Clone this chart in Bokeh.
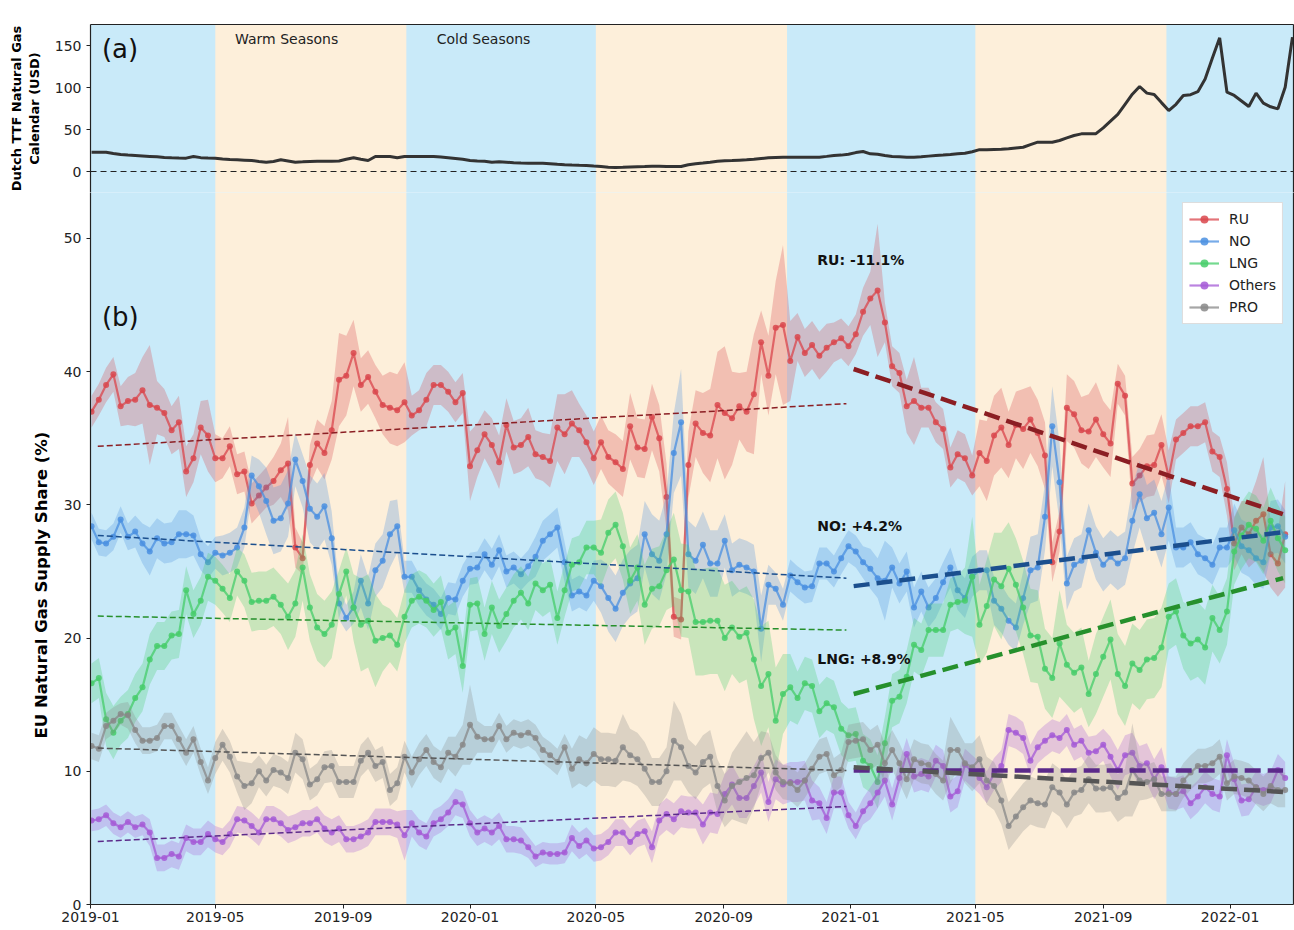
import numpy as np
import pandas as pd
from bokeh.plotting import figure
from bokeh.models import (Range1d, Span, Label, Legend, LegendItem, Title,
                          LinearAxis, FixedTicker, DatetimeTickFormatter, ColumnDataSource)
from bokeh.layouts import column
from bokeh.embed import file_html
from bokeh.resources import INLINE

# ---------------- data ----------------
FIRST_WEEK = "2019-01-02"
X_START, X_END = "2019-01-01", "2022-03-03"
x_tick_labels = ["2019-01", "2019-05", "2019-09", "2020-01", "2020-05", "2020-09",
                 "2021-01", "2021-05", "2021-09", "2022-01"]

season_start = ["2018-12-01", "2019-05-01", "2019-11-01", "2020-05-01", "2020-11-01", "2021-05-01", "2021-11-01"]
season_end = ["2019-05-01", "2019-11-01", "2020-05-01", "2020-11-01", "2021-05-01", "2021-11-01", "2022-05-01"]
season_kind = ["cold", "warm", "cold", "warm", "cold", "warm", "cold"]

ttf = [23.0, 23.0, 23.0, 21.5, 20.2, 19.5, 19.0, 18.5, 18.0, 17.5,
       16.8, 16.3, 16.0, 15.9, 17.9, 16.5, 16.0, 15.9, 15.0, 14.2,
       13.9, 13.5, 13.1, 12.0, 11.1, 12.0, 13.9, 12.5, 11.1, 11.5,
       12.0, 12.3, 12.3, 12.3, 12.5, 14.5, 16.3, 14.5, 13.1, 17.9,
       17.9, 17.9, 16.3, 17.9, 17.9, 17.9, 17.9, 17.9, 17.2, 16.5,
       15.5, 14.5, 13.1, 12.5, 12.3, 11.1, 11.5, 11.1, 10.5, 10.0,
       9.9, 9.9, 9.9, 9.2, 8.5, 8.0, 7.6, 7.3, 7.1, 6.5,
       6.0, 5.2, 4.8, 5.0, 5.5, 5.8, 6.0, 6.3, 6.2, 6.0,
       6.0, 6.0, 8.0, 9.1, 10.0, 11.1, 12.3, 12.8, 13.1, 13.5,
       13.9, 14.5, 15.5, 16.3, 16.8, 17.1, 17.1, 17.1, 17.1, 17.1,
       17.1, 18.0, 19.0, 19.5, 20.5, 22.5, 23.8, 21.0, 20.5, 19.0,
       17.9, 17.5, 17.1, 17.1, 17.5, 18.3, 19.0, 19.5, 20.2, 21.0,
       21.8, 23.5, 26.0, 25.8, 26.2, 26.5, 27.0, 28.0, 28.9, 32.0,
       34.9, 34.9, 34.9, 36.9, 40.0, 42.9, 44.8, 44.8, 45.0, 52.0,
       60.0, 68.0, 80.0, 92.0, 101.2, 93.3, 91.7, 82.0, 72.6, 80.0,
       90.5, 91.5, 95.0, 110.0, 135.0, 159.1, 94.4, 90.5, 84.0, 77.4,
       93.3, 81.3, 77.0, 74.6, 100.4, 160.0]

ru = [37.0, 37.9, 39.0, 39.8, 37.4, 37.8, 37.9, 38.6, 37.5, 37.3,
      36.9, 35.6, 36.2, 32.5, 33.5, 35.8, 35.2, 33.5, 33.5, 34.4,
      32.3, 32.5, 30.1, 30.7, 31.3, 31.8, 32.6, 33.1, 26.8, 26.0,
      33.0, 34.6, 33.9, 35.6, 39.4, 39.7, 41.4, 39.0, 39.6, 38.5,
      37.5, 37.3, 37.1, 37.7, 36.7, 37.1, 37.9, 39.0, 39.0, 38.5,
      37.7, 38.4, 32.9, 34.1, 35.3, 34.5, 33.2, 36.0, 34.3, 34.5,
      35.1, 33.8, 33.6, 33.3, 35.8, 35.3, 36.1, 35.6, 34.7, 33.5,
      34.7, 33.6, 33.2, 32.7, 35.9, 34.3, 34.2, 36.6, 35.0, 30.6,
      21.6, 21.4, 33.0, 36.1, 35.4, 35.2, 37.5, 36.9, 36.5, 37.4,
      37.0, 38.3, 42.2, 39.7, 43.3, 43.5, 40.8, 42.6, 41.4, 42.0,
      41.2, 41.8, 42.2, 42.5, 41.9, 42.8, 44.5, 45.5, 46.1, 43.7,
      40.4, 39.9, 37.4, 37.8, 37.3, 37.3, 36.2, 35.7, 32.8, 33.8,
      33.5, 32.2, 33.9, 33.3, 35.2, 35.8, 34.5, 36.0, 35.7, 36.4,
      35.4, 33.7, 25.7, 28.0, 37.3, 36.8, 35.6, 35.5, 36.4, 35.3,
      34.6, 39.1, 38.2, 31.6, 32.2, 32.9, 33.0, 34.5, 32.1, 34.9,
      35.4, 35.9, 35.9, 36.2, 34.0, 33.6, 31.2, 27.1, 28.3, 27.8,
      28.8, 29.3, 26.3, 25.6, 27.8]

no = [28.4, 27.2, 27.1, 27.6, 28.9, 27.6, 28.0, 27.1, 26.5, 27.5,
      27.1, 27.2, 27.8, 27.8, 27.7, 26.3, 25.7, 26.4, 26.2, 26.4,
      26.8, 28.3, 32.2, 31.4, 30.3, 28.8, 29.0, 30.1, 33.4, 31.8,
      29.7, 29.1, 29.9, 27.5, 22.6, 21.5, 22.3, 24.3, 22.6, 25.1,
      25.8, 27.8, 28.4, 24.6, 24.6, 23.6, 22.9, 22.5, 21.8, 23.0,
      22.9, 24.3, 25.2, 25.3, 26.3, 25.5, 26.6, 25.0, 25.3, 24.8,
      25.4, 26.1, 27.3, 27.8, 28.3, 25.7, 23.2, 23.5, 23.2, 24.3,
      23.9, 23.0, 22.2, 23.4, 24.1, 24.5, 27.8, 26.3, 25.8, 27.8,
      33.9, 36.2, 26.3, 25.8, 27.0, 25.6, 25.6, 27.3, 25.1, 25.5,
      25.3, 25.0, 20.7, 24.0, 23.7, 22.5, 24.7, 24.2, 23.8, 23.9,
      25.6, 25.6, 25.0, 26.0, 26.9, 26.5, 25.7, 25.2, 24.5, 24.3,
      25.3, 24.1, 25.0, 22.3, 23.5, 22.3, 23.0, 24.2, 25.3, 23.6,
      23.0, 24.6, 25.1, 25.1, 22.8, 22.2, 21.3, 20.8, 23.0, 25.1,
      25.3, 29.1, 35.9, 31.7, 24.1, 25.5, 25.8, 28.1, 26.4, 25.5,
      26.1, 25.6, 26.0, 28.8, 30.8, 29.0, 29.4, 27.8, 29.8, 26.8,
      26.8, 27.2, 26.3, 26.0, 25.5, 26.8, 26.8, 28.1, 26.9, 26.6,
      26.0, 25.7, 28.3, 28.4, 27.6]

lng = [16.6, 17.0, 13.9, 12.9, 13.8, 14.3, 15.5, 16.3, 18.4, 19.4,
       19.4, 20.2, 20.3, 23.6, 21.8, 22.8, 24.6, 24.3, 23.7, 23.0,
       25.0, 24.3, 22.7, 22.8, 22.8, 23.1, 22.5, 21.6, 22.6, 25.3,
       22.3, 20.8, 20.3, 21.0, 23.3, 25.0, 22.3, 21.0, 21.3, 19.8,
       20.0, 20.2, 19.5, 21.6, 22.8, 23.1, 22.8, 22.1, 22.7, 20.4,
       20.8, 17.9, 22.5, 22.6, 20.3, 22.3, 20.9, 21.8, 22.8, 23.4,
       22.6, 24.1, 23.6, 24.0, 21.5, 23.6, 25.5, 25.7, 26.8, 26.8,
       26.4, 27.9, 28.5, 26.9, 24.3, 25.3, 22.5, 23.7, 23.9, 25.1,
       25.9, 23.6, 23.5, 21.2, 21.2, 21.3, 21.3, 20.0, 20.8, 20.1,
       20.4, 18.4, 16.4, 17.3, 13.8, 15.8, 16.3, 15.5, 16.6, 16.4,
       14.5, 15.1, 14.8, 13.2, 12.7, 12.8, 10.8, 10.4, 9.2, 12.1,
       15.3, 15.6, 17.1, 19.5, 19.1, 20.6, 20.6, 20.6, 22.5, 22.7,
       22.8, 24.6, 21.0, 22.4, 24.4, 23.9, 25.2, 24.0, 22.3, 20.2,
       20.1, 17.7, 17.0, 19.6, 18.0, 17.4, 17.8, 15.8, 17.3, 18.6,
       19.9, 17.3, 16.4, 18.1, 17.6, 18.4, 18.5, 19.3, 21.6, 22.0,
       20.2, 19.6, 19.9, 19.3, 21.5, 20.6, 22.0, 26.5, 27.7, 28.5,
       28.2, 27.3, 28.8, 27.5, 26.6]

others = [6.3, 6.4, 6.7, 6.1, 5.8, 6.2, 5.8, 6.0, 5.4, 3.5,
          3.5, 3.8, 3.6, 5.0, 4.7, 4.7, 5.3, 4.9, 4.7, 5.3,
          6.4, 6.3, 5.9, 5.4, 6.4, 6.4, 6.1, 5.6, 5.8, 6.1,
          6.1, 6.4, 5.7, 5.4, 5.7, 4.9, 4.9, 5.1, 5.4, 6.2,
          6.2, 6.2, 6.0, 5.2, 6.1, 5.4, 5.1, 6.1, 6.4, 6.9,
          7.7, 7.5, 6.1, 5.4, 5.7, 5.4, 5.9, 4.9, 4.9, 4.8,
          4.3, 3.6, 3.9, 3.8, 3.8, 3.9, 5.0, 4.4, 4.8, 4.2,
          4.3, 4.7, 5.4, 5.4, 4.7, 5.3, 5.5, 4.3, 6.3, 6.8,
          6.4, 7.0, 6.9, 6.9, 6.0, 6.9, 6.8, 8.3, 9.0, 8.0,
          8.0, 8.9, 9.9, 7.7, 9.4, 9.0, 9.2, 9.2, 9.3, 7.8,
          7.6, 6.5, 8.4, 8.4, 6.7, 5.9, 7.0, 7.6, 8.4, 9.3,
          7.5, 9.5, 11.3, 9.6, 9.8, 9.6, 10.8, 10.4, 8.1, 8.5,
          10.5, 10.0, 9.5, 8.8, 9.8, 10.4, 13.1, 12.9, 12.5, 10.8,
          11.8, 12.3, 12.7, 12.5, 13.1, 12.0, 12.3, 11.4, 11.5, 12.0,
          11.1, 10.1, 11.2, 11.4, 10.4, 10.6, 9.4, 10.3, 8.4, 8.3,
          8.5, 7.6, 8.1, 8.8, 8.3, 8.1, 11.2, 9.4, 7.8, 7.9,
          8.8, 8.6, 8.8, 10.1, 9.5]

pro = [11.9, 11.7, 13.4, 13.8, 14.3, 14.2, 13.1, 12.3, 12.3, 12.5,
       13.4, 13.4, 12.4, 11.4, 12.4, 10.7, 9.3, 11.0, 12.0, 11.1,
       9.6, 8.9, 9.1, 10.0, 9.3, 10.1, 9.9, 9.5, 11.4, 10.9,
       9.0, 9.4, 10.3, 10.4, 9.2, 9.2, 9.2, 10.8, 11.4, 10.4,
       10.7, 8.6, 9.1, 11.1, 9.9, 10.9, 11.6, 10.7, 10.3, 11.4,
       11.1, 12.0, 13.5, 12.6, 12.4, 12.4, 13.4, 12.4, 12.9, 12.7,
       12.9, 12.5, 11.6, 11.2, 10.7, 11.8, 10.2, 10.9, 10.6, 11.3,
       10.9, 10.9, 10.8, 11.8, 11.2, 10.9, 10.2, 9.2, 9.2, 10.0,
       12.3, 11.8, 10.4, 9.9, 10.7, 11.1, 8.9, 7.8, 8.9, 9.2,
       9.5, 9.7, 11.0, 11.4, 9.9, 9.2, 9.1, 8.6, 9.3, 10.2,
       11.1, 11.3, 9.7, 10.1, 12.2, 12.3, 12.4, 11.6, 12.0, 10.6,
       11.6, 10.6, 9.4, 10.9, 10.6, 10.5, 9.8, 9.3, 11.6, 11.6,
       10.6, 10.3, 10.9, 9.3, 8.9, 7.8, 5.9, 6.6, 7.3, 7.8,
       7.6, 7.5, 8.8, 8.4, 7.5, 8.4, 8.6, 9.4, 8.7, 8.7,
       8.8, 8.0, 8.4, 10.1, 9.3, 9.2, 9.4, 8.3, 8.3, 8.3,
       9.3, 9.9, 10.4, 10.4, 10.6, 11.1, 9.1, 9.6, 9.5, 9.3,
       8.8, 8.3, 8.9, 8.6, 8.6]

# band half-widths (uncertainty shading)
ru_spread = [1.2, 1.2, 1.3, 1.3, 1.5, 1.8, 2.0, 2.5, 4.5, 2.0,
             1.8, 1.8, 2.0, 1.9, 1.8, 2.0, 2.7, 1.8, 1.5, 1.5,
             1.5, 1.5, 1.5, 1.5, 1.5, 1.8, 2.0, 3.5, 1.5, 1.2,
             1.5, 1.8, 2.0, 2.2, 3.5, 3.0, 2.5, 2.0, 2.0, 2.0,
             2.2, 2.7, 2.7, 3.0, 1.5, 1.5, 2.0, 1.5, 1.5, 1.5,
             1.5, 1.5, 2.6, 2.0, 1.8, 2.0, 2.0, 2.0, 2.0, 2.0,
             2.2, 1.8, 1.8, 2.0, 2.5, 3.0, 2.5, 2.0, 2.0, 2.0,
             2.0, 2.0, 2.1, 2.1, 2.5, 2.2, 2.2, 2.5, 2.5, 2.5,
             1.5, 1.5, 2.5, 2.5, 3.0, 3.5, 4.0, 5.0, 3.5, 2.5,
             3.0, 4.5, 2.4, 3.0, 3.5, 6.0, 3.0, 1.8, 1.8, 1.8,
             1.8, 1.8, 1.5, 1.5, 1.5, 1.5, 1.8, 2.0, 5.0, 1.5,
             1.5, 1.5, 2.0, 3.3, 1.5, 1.5, 1.5, 1.5, 1.5, 1.8,
             1.8, 1.5, 2.5, 3.0, 3.0, 3.0, 2.5, 2.5, 3.0, 2.5,
             2.5, 2.5, 1.5, 1.5, 2.5, 2.5, 2.5, 2.8, 2.8, 2.5,
             2.5, 1.5, 1.5, 2.0, 2.0, 2.3, 2.3, 2.3, 2.0, 1.5,
             1.5, 1.5, 1.5, 1.5, 1.5, 1.5, 2.0, 2.0, 2.0, 2.5,
             3.0, 4.3, 2.5, 2.5, 4.0]
no_spread = [1.0, 1.0, 1.0, 1.0, 1.0, 1.0, 1.2, 1.5, 1.8, 1.5,
             1.5, 1.5, 1.8, 1.8, 1.5, 1.2, 1.2, 1.2, 1.5, 1.5,
             1.5, 1.5, 1.5, 2.0, 2.5, 2.5, 2.5, 2.5, 2.0, 2.0,
             2.5, 2.5, 2.5, 2.0, 1.2, 1.0, 1.2, 2.0, 2.0, 2.0,
             2.0, 2.5, 2.0, 1.2, 1.2, 1.2, 1.2, 1.2, 1.2, 1.2,
             1.2, 1.2, 1.2, 1.2, 1.2, 1.2, 1.2, 1.2, 1.2, 1.2,
             1.2, 1.5, 1.5, 1.5, 1.5, 1.5, 1.2, 1.2, 1.2, 1.5,
             2.0, 2.5, 2.5, 2.5, 2.5, 2.5, 2.5, 3.0, 3.0, 3.0,
             3.0, 4.0, 2.5, 2.5, 2.5, 2.5, 2.5, 2.0, 2.0, 2.0,
             2.0, 2.0, 2.5, 1.5, 1.2, 1.2, 1.2, 1.2, 1.2, 1.2,
             1.2, 1.2, 1.2, 1.2, 1.2, 1.2, 1.2, 1.5, 1.5, 3.0,
             1.5, 1.5, 1.5, 1.5, 1.5, 1.5, 1.5, 1.5, 1.5, 1.5,
             1.5, 1.5, 1.5, 1.5, 1.8, 1.8, 1.8, 1.8, 2.0, 2.5,
             2.5, 2.5, 3.0, 3.0, 2.0, 2.0, 2.0, 2.0, 2.0, 2.0,
             2.0, 2.0, 2.0, 2.5, 2.5, 2.5, 2.5, 2.5, 2.5, 1.5,
             1.5, 1.5, 1.5, 1.5, 1.5, 1.5, 1.5, 2.0, 2.0, 2.0,
             2.0, 2.0, 2.0, 2.0, 2.0]
lng_spread = [1.5, 1.5, 2.0, 2.0, 1.8, 1.8, 1.8, 1.8, 1.9, 1.8,
              1.8, 1.8, 1.8, 1.8, 1.8, 1.8, 1.8, 1.8, 1.8, 1.8,
              1.8, 2.0, 2.2, 2.2, 2.2, 2.2, 2.2, 2.5, 2.5, 2.5,
              2.5, 2.5, 2.5, 2.5, 1.8, 1.8, 2.5, 3.5, 3.5, 3.5,
              2.5, 2.0, 2.0, 2.0, 2.0, 2.0, 2.0, 2.0, 2.0, 2.0,
              2.0, 2.0, 2.0, 2.0, 2.0, 2.0, 2.0, 2.0, 2.0, 2.0,
              2.0, 2.0, 2.0, 2.0, 2.0, 2.0, 2.0, 2.0, 2.0, 2.0,
              2.5, 2.5, 2.5, 2.5, 2.5, 2.5, 3.0, 3.0, 3.0, 3.0,
              3.5, 3.5, 3.5, 4.0, 4.0, 4.0, 4.0, 4.0, 3.5, 3.5,
              3.5, 4.5, 4.5, 4.0, 4.0, 3.0, 2.5, 2.0, 2.0, 2.0,
              2.0, 2.0, 2.0, 2.0, 2.0, 2.0, 2.0, 2.0, 2.0, 2.0,
              2.0, 2.0, 2.0, 2.0, 2.0, 2.0, 2.0, 2.0, 2.0, 2.0,
              2.5, 4.5, 3.0, 3.5, 3.5, 4.0, 3.5, 3.5, 3.5, 3.5,
              3.5, 3.0, 3.0, 4.0, 3.0, 3.0, 3.0, 2.5, 3.0, 3.0,
              3.0, 3.0, 3.0, 3.0, 3.0, 3.0, 3.0, 3.0, 2.5, 2.5,
              2.5, 2.8, 2.8, 2.8, 2.5, 2.5, 2.5, 2.5, 2.5, 2.5,
              2.5, 2.5, 2.5, 2.5, 2.5]
others_spread = [0.8, 0.8, 0.8, 0.8, 0.8, 0.8, 0.8, 0.8, 1.0, 1.0,
                 1.0, 1.0, 1.0, 1.0, 1.0, 1.0, 1.0, 1.0, 1.0, 1.0,
                 1.0, 1.0, 1.0, 1.0, 1.0, 1.0, 1.0, 1.0, 1.0, 1.0,
                 1.0, 1.0, 1.0, 1.0, 1.0, 1.0, 1.0, 1.0, 1.0, 1.0,
                 1.0, 1.0, 1.0, 1.9, 1.0, 1.0, 1.0, 1.0, 1.0, 1.0,
                 1.0, 1.0, 1.0, 1.0, 1.0, 1.0, 1.0, 1.0, 1.0, 1.0,
                 0.8, 0.8, 0.8, 0.8, 0.8, 0.8, 1.0, 1.0, 1.0, 1.0,
                 1.0, 1.0, 1.0, 1.0, 1.0, 1.0, 1.0, 1.2, 1.2, 1.2,
                 1.2, 1.2, 1.2, 1.2, 1.5, 1.5, 1.5, 1.5, 1.5, 1.5,
                 1.5, 1.5, 1.5, 1.5, 1.5, 1.5, 1.5, 1.5, 1.5, 1.5,
                 1.2, 1.2, 1.2, 1.2, 1.0, 1.0, 1.0, 1.2, 1.2, 1.2,
                 1.2, 1.2, 1.2, 1.2, 1.2, 1.2, 1.2, 1.2, 1.2, 1.2,
                 1.2, 1.2, 1.2, 1.2, 1.2, 1.2, 1.2, 1.2, 1.2, 1.2,
                 1.2, 1.2, 1.2, 1.2, 1.2, 1.2, 1.2, 1.2, 1.2, 1.2,
                 1.5, 1.5, 1.5, 1.5, 1.5, 1.5, 1.5, 1.5, 1.2, 1.2,
                 1.2, 1.2, 1.2, 1.2, 1.2, 1.2, 1.2, 1.2, 1.2, 1.2,
                 1.2, 1.2, 1.2, 1.2, 1.2]
pro_spread = [1.0, 1.0, 1.0, 1.0, 0.8, 1.0, 1.0, 1.0, 1.0, 1.0,
              1.0, 1.0, 1.0, 1.0, 1.0, 1.0, 1.0, 1.2, 1.2, 1.2,
              1.2, 1.8, 1.5, 1.2, 1.2, 1.2, 1.2, 1.2, 1.5, 1.5,
              1.2, 1.2, 1.2, 1.2, 1.2, 1.2, 1.2, 1.2, 1.2, 1.2,
              1.2, 1.2, 1.2, 1.2, 1.2, 1.2, 1.2, 1.2, 1.2, 1.2,
              1.5, 1.5, 3.0, 1.2, 1.0, 1.0, 1.0, 1.0, 1.0, 1.0,
              1.0, 1.0, 1.0, 1.0, 1.0, 1.0, 1.5, 1.8, 1.8, 2.0,
              2.0, 2.0, 2.0, 2.5, 2.0, 2.0, 2.0, 1.8, 1.8, 1.8,
              3.0, 2.5, 2.0, 2.0, 2.0, 2.0, 2.0, 2.0, 2.5, 3.0,
              3.5, 2.5, 2.0, 1.5, 1.3, 1.3, 1.3, 1.3, 1.3, 1.3,
              1.3, 1.3, 1.3, 1.3, 1.3, 1.3, 1.3, 1.5, 1.5, 1.5,
              1.5, 1.5, 1.5, 1.5, 1.5, 1.5, 1.5, 1.5, 2.5, 1.5,
              1.5, 1.8, 1.8, 1.8, 1.8, 1.8, 1.8, 1.8, 1.8, 1.8,
              1.8, 1.8, 1.8, 1.8, 1.8, 1.8, 1.8, 1.8, 1.8, 1.8,
              1.8, 1.8, 1.8, 3.5, 1.5, 1.3, 1.3, 1.3, 1.3, 1.3,
              1.3, 1.3, 1.3, 1.3, 1.3, 1.3, 1.3, 1.3, 1.3, 1.3,
              1.3, 1.3, 1.3, 1.3, 1.3]

series_names = ["RU", "NO", "LNG", "Others", "PRO"]
series_values = [ru, no, lng, others, pro]
series_spreads = [ru_spread, no_spread, lng_spread, others_spread, pro_spread]

# linear trends (start value, end value) for 2019-2020 and 2021-2022 periods
trend1_dates = ["2019-01-08", "2020-12-28"]
trend2_dates = ["2021-01-04", "2022-02-21"]
trend1_start = [34.4, 27.7, 21.65, 4.73, 11.74]
trend1_end = [37.6, 24.5, 20.6, 7.36, 10.06]
trend2_start = [40.2, 23.9, 15.8, 10.06, 10.3]
trend2_end = [29.3, 27.95, 24.5, 10.06, 8.45]
trend_labels = ["RU: -11.1%", "NO: +4.2%", "LNG: +8.9%"]
trend_label_y = [48.4, 28.4, 18.4]

# ---------------- style ----------------
FONT = "DejaVu Sans"
colors = ["#d9464c", "#4a8fe0", "#46cc6a", "#a45ad6", "#888888"]
trend_colors = ["#8b1e23", "#1b4f8e", "#26902c", "#5b2a8a", "#555555"]
COLD, WARM = "#c9eaf9", "#fdefda"


def ms(d):
    return pd.Timestamp(d).timestamp() * 1000.0


xr = Range1d(ms(X_START), ms(X_END))
W = 1294
tick_ms = [ms(t + "-01") for t in x_tick_labels]


def style_axis(ax):
    ax.major_label_text_font = FONT
    ax.major_label_text_font_size = "14px"
    ax.major_label_text_color = "#222222"
    ax.axis_line_color = "#222222"
    ax.axis_line_width = 1.2
    ax.major_tick_line_color = "#222222"
    ax.major_tick_out = 4
    ax.major_tick_in = 0
    ax.minor_tick_out = 0
    ax.minor_tick_in = 0
    ax.axis_label_text_font = FONT
    ax.axis_label_text_font_style = "bold"
    ax.axis_label_text_color = "#000000"


def border_axis(p, side):
    ax = LinearAxis(ticker=FixedTicker(ticks=[]), major_label_text_font_size="0px",
                    major_tick_out=0, major_tick_in=0, minor_tick_out=0, minor_tick_in=0,
                    major_label_standoff=0, axis_line_color="#222222", axis_line_width=1.2)
    p.add_layout(ax, side)


def add_seasons(p):
    # season backgrounds as quads spanning well past the panel's y range (clipped to the frame)
    span = p.y_range.end - p.y_range.start
    src = ColumnDataSource(dict(
        left=[ms(s) for s in season_start], right=[ms(e) for e in season_end],
        bottom=[p.y_range.start - span] * len(season_start),
        top=[p.y_range.end + span] * len(season_start),
        color=[COLD if k == "cold" else WARM for k in season_kind]))
    p.quad(left="left", right="right", bottom="bottom", top="top", source=src,
           fill_color="color", line_color=None, level="underlay")


# ---------------- top panel (a) ----------------
p1 = figure(width=W, height=192, x_range=xr, y_range=Range1d(-25.0, 175),
            x_axis_type="datetime", x_axis_location=None,
            output_backend="svg", toolbar_location=None,
            min_border_left=90, min_border_right=1, min_border_top=24, min_border_bottom=0)
p1.outline_line_color = None
p1.grid.visible = False
p1.background_fill_color = COLD
add_seasons(p1)
p1.yaxis.ticker = FixedTicker(ticks=[0, 50, 100, 150])
style_axis(p1.yaxis[0])
p1.yaxis.axis_label = "Dutch TTF Natural Gas\nCalendar (USD)"
p1.yaxis.axis_label_text_font_size = "13px"
p1.yaxis.axis_label_standoff = 10
border_axis(p1, "above")
border_axis(p1, "right")

ttf_dates = pd.date_range(FIRST_WEEK, periods=len(ttf), freq="7D")
p1.add_layout(Span(location=0, dimension="width", line_color="#222222", line_dash="6 4", line_width=1))
p1.line(ttf_dates, ttf, line_color="#333333", line_width=3)

p1.add_layout(Label(x=ms("2019-01-12"), y=146.0, text="(a)", text_font=FONT, text_font_size="26px",
                    text_baseline="middle", text_color="#111111"))
p1.add_layout(Label(x=ms("2019-05-20"), y=158.0, text="Warm Seasons", text_font=FONT,
                    text_font_size="14px", text_baseline="middle", text_color="#222222"))
p1.add_layout(Label(x=ms("2019-11-30"), y=158.0, text="Cold Seasons", text_font=FONT,
                    text_font_size="14px", text_baseline="middle", text_color="#222222"))

# ---------------- bottom panel (b) ----------------
p2 = figure(width=W, height=737, x_range=xr, y_range=Range1d(0, 53.45),
            x_axis_type="datetime", output_backend="svg", toolbar_location=None,
            min_border_left=90, min_border_right=1, min_border_top=0, min_border_bottom=25)
p2.outline_line_color = None
p2.grid.visible = False
p2.background_fill_color = COLD
add_seasons(p2)
p2.yaxis.ticker = FixedTicker(ticks=[0, 10, 20, 30, 40, 50])
style_axis(p2.yaxis[0])
p2.xaxis.ticker = FixedTicker(ticks=tick_ms)
fmt = "%Y-%m"
p2.xaxis.formatter = DatetimeTickFormatter(milliseconds=fmt, seconds=fmt, minsec=fmt, minutes=fmt,
                                           hourmin=fmt, hours=fmt, days=fmt, months=fmt, years=fmt)
style_axis(p2.xaxis[0])
p2.xaxis.major_label_standoff = 3
border_axis(p2, "right")

# y-axis title as a side title (placed lower than the frame centre, as in the original)
p2.add_layout(Title(text="EU Natural Gas Supply Share (%)", align="left", offset=166, standoff=20,
                    text_font=FONT, text_font_size="16.5px", text_font_style="bold",
                    text_color="#000000"), "left")

dates = pd.date_range(FIRST_WEEK, periods=len(ru), freq="7D")
legend_items = []
for name, vals, spr, col in zip(series_names, series_values, series_spreads, colors):
    v = np.array(vals, dtype=float)
    s = np.array(spr, dtype=float)
    d = dates[:len(v)]
    src = ColumnDataSource(dict(date=d, val=v, lo=v - s, hi=v + s))
    p2.varea(x="date", y1="lo", y2="hi", source=src, fill_color=col, fill_alpha=0.28)
    ln = p2.line(x="date", y="val", source=src, line_color=col, line_width=2.2, line_alpha=0.75)
    sc = p2.scatter(x="date", y="val", source=src, size=6, fill_color=col, line_color=None, fill_alpha=0.85)
    legend_items.append(LegendItem(label=name, renderers=[ln, sc]))

# trend lines
for i, col in enumerate(trend_colors):
    p2.line([ms(trend1_dates[0]), ms(trend1_dates[1])], [trend1_start[i], trend1_end[i]],
            line_color=col, line_width=1.5, line_dash="6 3")
for i, col in enumerate(trend_colors):
    p2.line([ms(trend2_dates[0]), ms(trend2_dates[1])], [trend2_start[i], trend2_end[i]],
            line_color=col, line_width=4.5, line_dash="16 7")

for txt, yv in zip(trend_labels, trend_label_y):
    p2.add_layout(Label(x=ms("2020-11-30"), y=yv, text=txt, text_font=FONT, text_font_size="14px",
                        text_font_style="bold", text_baseline="middle", text_color="#111111"))
p2.add_layout(Label(x=ms("2019-01-12"), y=44.1, text="(b)", text_font=FONT, text_font_size="26px",
                    text_baseline="middle", text_color="#111111"))

legend = Legend(items=legend_items, location="top_right", margin=10, padding=6, spacing=2,
                glyph_width=30, glyph_height=20, label_height=20, label_standoff=10,
                label_text_font=FONT, label_text_font_size="14px", label_text_color="#222222",
                border_line_color="#bbbbbb", border_line_width=1, background_fill_color="white",
                background_fill_alpha=1.0)
p2.add_layout(legend)

layout = column(p1, p2, spacing=0)
open("out.html", "w").write(file_html(layout, INLINE))
